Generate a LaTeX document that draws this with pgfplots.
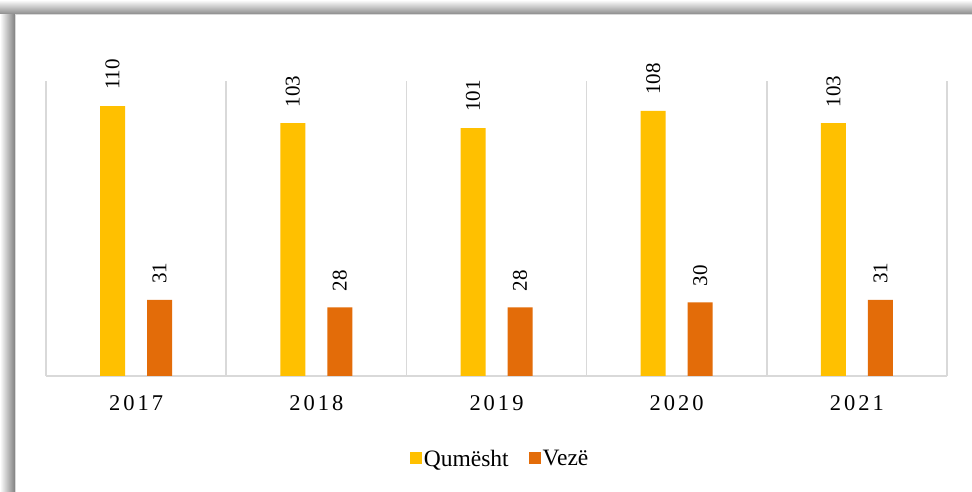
\documentclass[border=0pt]{standalone}
\usepackage{fontspec}
\setmainfont{Liberation Serif}
\usepackage{pgfplots}
\pgfplotsset{compat=1.18}
\definecolor{cyel}{HTML}{FFC000}
\definecolor{corg}{HTML}{E36C09}
\definecolor{cgrid}{HTML}{D9D9D9}
\newcommand{\yr}[4]{#1\kern3pt#2\kern3pt#3\kern3pt#4}
\begin{document}
\begin{tikzpicture}
\path[use as bounding box] (0,0) rectangle (972pt,492pt);
\shade[left color=white, right color=black!50] (0,0) rectangle (15pt,492pt);
\shade[top color=white, bottom color=black!45] (0,478pt) rectangle (972pt,492pt);
\draw[cgrid, fill=white, line width=1pt] (15.5pt,-5pt) rectangle (985pt,477.5pt);
\begin{axis}[
  at={(46pt,116pt)}, anchor=south west,
  scale only axis, width=901pt, height=294.5pt,
  ymin=0, ymax=120, xmin=-0.5, xmax=4.5,
  enlargelimits=false,
  ybar=22pt, bar width=25pt,
  axis y line=none, axis x line*=bottom,
  x axis line style={cgrid, line width=1.5pt},
  xtick={0,1,2,3,4},
  xticklabels={\yr2017,\yr2018,\yr2019,\yr2020,\yr2021},
  major tick length=0pt, minor tick length=0pt,
  minor xtick={-0.5,0.5,1.5,2.5,3.5,4.5},
  xminorgrids=true,
  minor grid style={cgrid, line width=1.5pt},
  xticklabel style={font=\fontsize{22.5}{22.5}\selectfont, yshift=-16pt},
  /pgf/number format/assume math mode=true,
  nodes near coords={\pgfmathprintnumber{\pgfplotspointmeta}},
  every node near coord/.append style={rotate=90, anchor=west, inner xsep=16pt, inner ysep=0pt, font=\fontsize{21}{21}\selectfont, text=black},
  legend style={at={(0.504,-0.282)}, anchor=center, draw=none, fill=none, legend columns=2,
    font=\fontsize{23.5}{23.5}\selectfont,
    /tikz/every even column/.append style={column sep=18pt}},
  legend image code/.code={\fill[#1] (0pt,-5pt) rectangle (12pt,7pt);},
]
\addplot[fill=cyel, draw=none] coordinates {(0,110) (1,103) (2,101) (3,108) (4,103)};
\addplot[fill=corg, draw=none] coordinates {(0,31) (1,28) (2,28) (3,30) (4,31)};
\legend{Qumësht, Vezë}
\end{axis}
\end{tikzpicture}
\end{document}
